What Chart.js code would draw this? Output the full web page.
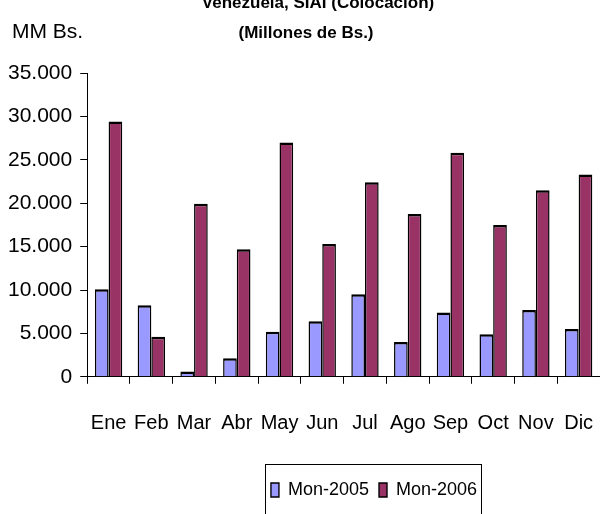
<!DOCTYPE html>
<html>
<head>
<meta charset="utf-8">
<script src="https://cdn.jsdelivr.net/npm/chart.js@4"></script>
<style>
  html, body { margin: 0; padding: 0; background: #fff; }
  #wrap { width: 600px; height: 514px; }
</style>
</head>
<body>
<div id="wrap"><canvas id="chartMon" width="600" height="514"></canvas></div>
<script>
const months = ["Ene", "Feb", "Mar", "Abr", "May", "Jun", "Jul", "Ago", "Sep", "Oct", "Nov", "Dic"];
const mon2005 = [10100, 8250, 600, 2150, 5200, 6400, 9500, 4000, 7400, 4900, 7700, 5500];
const mon2006 = [29400, 4600, 19950, 14700, 27000, 15300, 22400, 18750, 25800, 17500, 21500, 23300];
const titleLines = ["Venezuela, SIAI (Colocación)", "(Millones de Bs.)"];
const unitLabel = "MM Bs.";

const fam = "'Liberation Sans', Arial, sans-serif";

// titulos y caja de la leyenda
const decor = {
    id: 'decor',
    afterLayout(chart) {
        // la leyenda del original no esta centrada en el lienzo
        const lg = chart.legend;
        lg.left += 74;
        lg.right += 74;
        lg.adjustHitBoxes();
    },
    afterDraw(chart) {
        const ctx = chart.ctx;
        ctx.save();
        ctx.fillStyle = '#000';
        ctx.textAlign = 'left';
        ctx.textBaseline = 'alphabetic';
        ctx.font = "21px " + fam;
        ctx.fillText(unitLabel, 12, 38);
        ctx.textAlign = 'center';
        ctx.font = "bold 17px " + fam;
        ctx.fillText(titleLines[0], 318, 8);
        ctx.fillText(titleLines[1], 306, 38);

        const boxes = chart.legend.legendHitBoxes;
        if (boxes && boxes.length) {
            const l = Math.min(...boxes.map(b => b.left)) - 6;
            const r = Math.max(...boxes.map(b => b.left + b.width)) + 4;
            ctx.strokeStyle = '#000';
            ctx.lineWidth = 1;
            ctx.strokeRect(Math.round(l) + 0.5, Math.round(chart.legend.top) - 6.5, Math.round(r - l), 80);
        }
        ctx.restore();
    }
};

const chartMon = new Chart("chartMon", {
    type: "bar",
    data: {
        labels: months,
        datasets: [{
            label: "Mon-2005",
            data: mon2005,
            backgroundColor: "#9999ff",
            borderColor: "#000",
            borderWidth: { top: 2.5, left: 1.5, right: 1.5, bottom: 0 },
            borderSkipped: false
        }, {
            label: "Mon-2006",
            data: mon2006,
            backgroundColor: "#993366",
            borderColor: "#000",
            borderWidth: { top: 2.5, left: 1.5, right: 1.5, bottom: 0 },
            borderSkipped: false
        }]
    },
    options: {
        responsive: false,
        animation: false,
        layout: { padding: { top: 73, left: 0, right: 0, bottom: 5 } },
        datasets: { bar: { categoryPercentage: 0.64, barPercentage: 1.0 } },
        plugins: {
            title: { display: false },
            tooltip: { enabled: false },
            legend: {
                position: 'bottom',
                labels: {
                    boxWidth: 8,
                    boxHeight: 14,
                    padding: 10,
                    color: '#000',
                    font: { family: fam, size: 18 }
                }
            }
        },
        scales: {
            x: {
                grid: { display: true, drawOnChartArea: false, tickLength: 7, color: '#000', offset: true },
                border: { display: true, color: '#000', width: 1 },
                ticks: { color: '#000', padding: 28, maxRotation: 0, autoSkip: false, font: { family: fam, size: 20 } },
                title: { display: true, text: ' ', font: { size: 1 }, padding: { top: 0, bottom: 6 } },
                afterFit(scale) {
                    scale.paddingLeft = 0;
                    scale.paddingRight = 0;
                }
            },
            y: {
                min: 0,
                max: 35000,
                grid: { display: true, drawOnChartArea: false, tickLength: 7, color: '#000' },
                border: { display: true, color: '#000', width: 1 },
                ticks: {
                    stepSize: 5000,
                    color: '#000',
                    padding: 8,
                    font: { family: fam, size: 21 },
                    callback: v => String(v).replace(/\B(?=(\d{3})+(?!\d))/g, '.')
                }
            }
        }
    },
    plugins: [decor]
});
</script>
</body>
</html>
